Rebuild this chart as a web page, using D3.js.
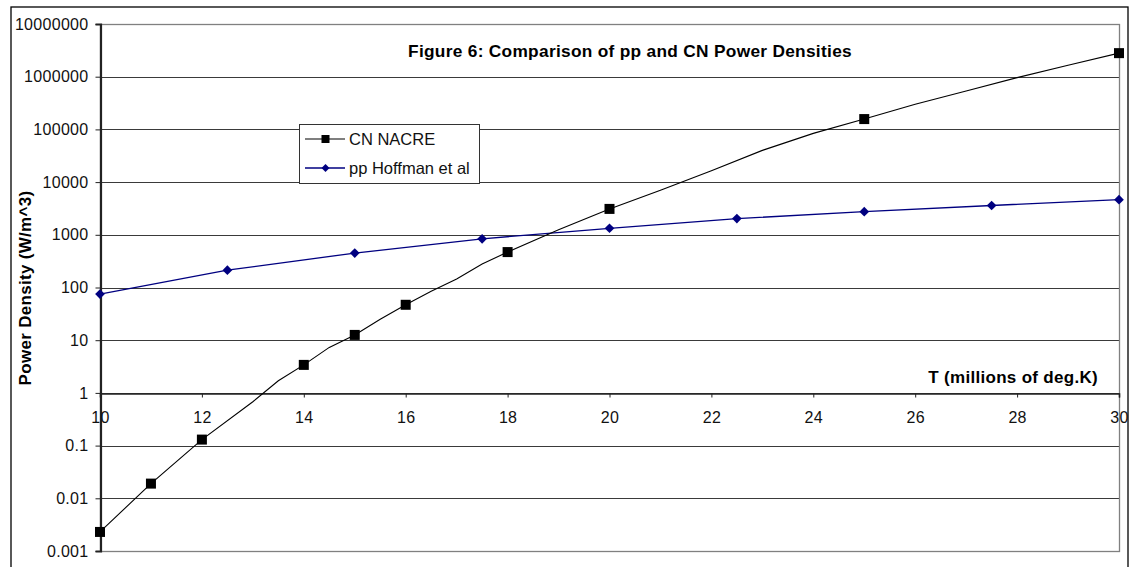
<!DOCTYPE html>
<html>
<head>
<meta charset="utf-8">
<script src="https://cdn.jsdelivr.net/npm/d3@7"></script>
<style>
  body { margin: 0; background: #fff; }
  svg { display: block; font-family: Arial, "Liberation Sans", sans-serif; }
</style>
</head>
<body>
<svg id="chart" width="1138" height="567"></svg>
<script>
// CN NACRE curve (line drawn through all points, markers only at some)
const cnT = [10, 11, 12, 13, 13.5, 14, 14.5, 15, 15.5, 16, 16.5, 17, 17.5, 18, 19, 20,
             21, 22, 23, 24, 25, 26, 27, 28, 29, 30];
const cnV = [0.0023, 0.019, 0.13, 0.68, 1.7, 3.4, 7.3, 12.6, 25, 47, 85, 145, 280, 470, 1250, 3100,
             7000, 16500, 40000, 84000, 157000, 300000, 535000, 960000, 1650000, 2800000];
const cnMarkerT = [10, 11, 12, 14, 15, 16, 18, 20, 25, 30];

// pp Hoffman et al
const ppT = [10, 12.5, 15, 17.5, 20, 22.5, 25, 27.5, 30];
const ppV = [75, 213, 450, 840, 1330, 2030, 2750, 3600, 4650];

const xTicks = [10, 12, 14, 16, 18, 20, 22, 24, 26, 28, 30];
const yTicks = [0.001, 0.01, 0.1, 1, 10, 100, 1000, 10000, 100000, 1000000, 10000000];
const yTickLabels = ["0.001", "0.01", "0.1", "1", "10", "100", "1000", "10000", "100000", "1000000", "10000000"];

const titleText = "Figure 6: Comparison of pp and CN Power Densities";
const seriesNames = ["CN NACRE", "pp Hoffman et al"];

const svg = d3.select("#chart");
const plot = {left: 100, right: 1119, top: 24, bottom: 551};

const x = d3.scaleLinear().domain([10, 30]).range([plot.left, plot.right]);
const y = d3.scaleLog().domain([0.001, 10000000]).range([plot.bottom, plot.top]);

// outer frame
svg.append("rect")
  .attr("x", 11).attr("y", 7)
  .attr("width", 1117).attr("height", 570)
  .attr("fill", "none").attr("stroke", "#000").attr("stroke-width", 1.3);

// gridlines
svg.append("g")
  .selectAll("line")
  .data(yTicks)
  .enter()
  .append("line")
  .attr("x1", plot.left).attr("x2", plot.right)
  .attr("y1", d => Math.round(y(d)) + 0.5)
  .attr("y2", d => Math.round(y(d)) + 0.5)
  .attr("stroke", "#3a3a3a").attr("stroke-width", 1);

// plot border (grey)
svg.append("rect")
  .attr("x", plot.left + 0.5).attr("y", plot.top + 0.5)
  .attr("width", plot.right - plot.left).attr("height", plot.bottom - plot.top)
  .attr("fill", "none").attr("stroke", "#808080").attr("stroke-width", 1.3);

// y axis
const yAxis = svg.append("g")
  .attr("transform", "translate(" + (plot.left + 0.5) + ",0)")
  .call(d3.axisLeft(y).tickValues(yTicks).tickSize(5).tickPadding(7)
    .tickFormat((d, i) => yTickLabels[i]));
yAxis.select(".domain").attr("stroke", "#222").attr("stroke-width", 2.2);
yAxis.selectAll(".tick line").attr("stroke", "#222").attr("stroke-width", 1);
yAxis.selectAll("text")
  .attr("font-size", 16).attr("fill", "#111")
  .style("letter-spacing", "0.3px")
  .attr("font-family", "Arial, 'Liberation Sans', sans-serif");

// x axis crossing at 1
const xAxis = svg.append("g")
  .attr("transform", "translate(0," + (Math.round(y(1)) + 0.5) + ")")
  .call(d3.axisBottom(x).tickValues(xTicks).tickSize(4).tickPadding(14));
xAxis.select(".domain").attr("stroke", "#222").attr("stroke-width", 1.6);
xAxis.selectAll(".tick line").attr("stroke", "#222");
xAxis.selectAll("text")
  .attr("font-size", 16).attr("fill", "#111")
  .style("letter-spacing", "0.3px")
  .attr("font-family", "Arial, 'Liberation Sans', sans-serif");

// series lines
const cnData = cnT.map((t, i) => ({t: t, v: cnV[i]}));
const ppData = ppT.map((t, i) => ({t: t, v: ppV[i]}));
const line = d3.line().x(d => x(d.t)).y(d => y(d.v));

svg.append("path")
  .datum(ppData)
  .attr("d", line)
  .attr("fill", "none").attr("stroke", "#000080").attr("stroke-width", 1.3);

svg.append("path")
  .datum(cnData)
  .attr("d", line)
  .attr("fill", "none").attr("stroke", "#000").attr("stroke-width", 1.1);

// markers
svg.append("g")
  .selectAll("path")
  .data(ppData)
  .enter()
  .append("path")
  .attr("d", d3.symbol().type(d3.symbolDiamond2).size(60))
  .attr("transform", d => "translate(" + x(d.t) + "," + y(d.v) + ")")
  .attr("fill", "#000080");

svg.append("g")
  .selectAll("rect")
  .data(cnData.filter(d => cnMarkerT.includes(d.t)))
  .enter()
  .append("rect")
  .attr("x", d => x(d.t) - 5).attr("y", d => y(d.v) - 5)
  .attr("width", 10).attr("height", 10)
  .attr("fill", "#000");

// title
svg.append("text")
  .attr("x", 630).attr("y", 57)
  .attr("text-anchor", "middle")
  .attr("font-size", 17.3).attr("font-weight", "bold")
  .style("letter-spacing", "0.3px")
  .text(titleText);

// axis titles
svg.append("text")
  .attr("transform", "translate(31,288) rotate(-90)")
  .attr("text-anchor", "middle")
  .attr("font-size", 17).attr("font-weight", "bold")
  .style("letter-spacing", "0.3px")
  .text("Power Density (W/m^3)");

svg.append("text")
  .attr("x", 1098).attr("y", 383)
  .attr("text-anchor", "end")
  .attr("font-size", 17).attr("font-weight", "bold")
  .style("letter-spacing", "0.3px")
  .text("T (millions of deg.K)");

// legend
const legend = svg.append("g");
legend.append("rect")
  .attr("x", 299.5).attr("y", 124.5).attr("width", 180).attr("height", 59)
  .attr("fill", "#fff").attr("stroke", "#333").attr("stroke-width", 1);

const legendY = [139, 168];
const legendColor = ["#000", "#000080"];
seriesNames.forEach((name, i) => {
  legend.append("line")
    .attr("x1", 305).attr("x2", 345)
    .attr("y1", legendY[i]).attr("y2", legendY[i])
    .attr("stroke", legendColor[i]).attr("stroke-width", i === 0 ? 1.2 : 1.3);
  if (i === 0) {
    legend.append("rect")
      .attr("x", 321.5).attr("y", legendY[i] - 4).attr("width", 8).attr("height", 8)
      .attr("fill", "#000");
  } else {
    legend.append("path")
      .attr("d", d3.symbol().type(d3.symbolDiamond2).size(40))
      .attr("transform", "translate(325.5," + legendY[i] + ")")
      .attr("fill", "#000080");
  }
  legend.append("text")
    .attr("x", 349).attr("y", legendY[i] + 6)
    .attr("font-size", 16.5).attr("fill", "#111")
    .text(name);
});
</script>
</body>
</html>
